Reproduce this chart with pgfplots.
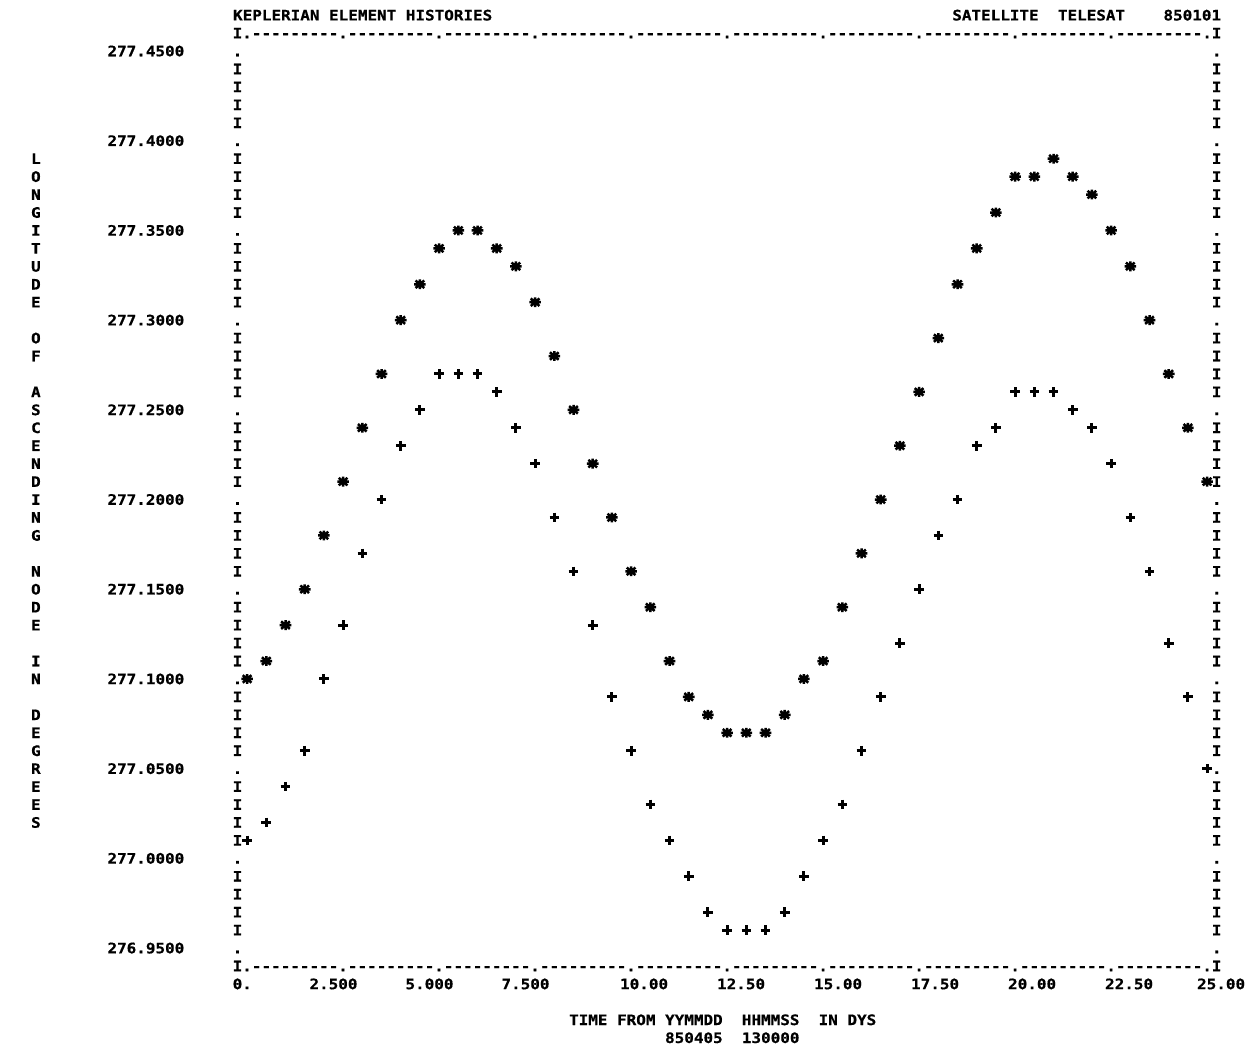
\documentclass[border=0pt]{standalone}
\usepackage{fontspec}
\usepackage{pgfplots}
\usepackage{pgfplotstable}
\pgfplotsset{compat=1.18}
\newfontfamily\lp{DejaVu Sans Mono Bold}[FakeStretch=1.1073,FakeBold=0.6]
\newcommand\lpf{\lp\fontsize{7.2}{8.97}\selectfont}
\newcommand\sh[2]{\makebox[0pt]{\hspace*{#1}\hspace*{#1}#2}}
\pgfdeclareplotmark{lpstar}{%
  \pgfpathmoveto{\pgfqpoint{-\pgfplotmarksize}{0pt}}\pgfpathlineto{\pgfqpoint{\pgfplotmarksize}{0pt}}%
  \pgfpathmoveto{\pgfqpoint{0pt}{-.85\pgfplotmarksize}}\pgfpathlineto{\pgfqpoint{0pt}{.85\pgfplotmarksize}}%
  \pgfpathmoveto{\pgfqpoint{-.75\pgfplotmarksize}{-.65\pgfplotmarksize}}\pgfpathlineto{\pgfqpoint{.75\pgfplotmarksize}{.65\pgfplotmarksize}}%
  \pgfpathmoveto{\pgfqpoint{-.75\pgfplotmarksize}{.65\pgfplotmarksize}}\pgfpathlineto{\pgfqpoint{.75\pgfplotmarksize}{-.65\pgfplotmarksize}}%
  \pgfusepathqstroke}
\pgfplotstableread{
t    s      p
0.0  277.10 277.01
0.5  277.11 277.02
1.0  277.13 277.04
1.5  277.15 277.06
2.0  277.18 277.10
2.5  277.21 277.13
3.0  277.24 277.17
3.5  277.27 277.20
4.0  277.30 277.23
4.5  277.32 277.25
5.0  277.34 277.27
5.5  277.35 277.27
6.0  277.35 277.27
6.5  277.34 277.26
7.0  277.33 277.24
7.5  277.31 277.22
8.0  277.28 277.19
8.5  277.25 277.16
9.0  277.22 277.13
9.5  277.19 277.09
10.0 277.16 277.06
10.5 277.14 277.03
11.0 277.11 277.01
11.5 277.09 276.99
12.0 277.08 276.97
12.5 277.07 276.96
13.0 277.07 276.96
13.5 277.07 276.96
14.0 277.08 276.97
14.5 277.10 276.99
15.0 277.11 277.01
15.5 277.14 277.03
16.0 277.17 277.06
16.5 277.20 277.09
17.0 277.23 277.12
17.5 277.26 277.15
18.0 277.29 277.18
18.5 277.32 277.20
19.0 277.34 277.23
19.5 277.36 277.24
20.0 277.38 277.26
20.5 277.38 277.26
21.0 277.39 277.26
21.5 277.38 277.25
22.0 277.37 277.24
22.5 277.35 277.22
23.0 277.33 277.19
23.5 277.30 277.16
24.0 277.27 277.12
24.5 277.24 277.09
25.0 277.21 277.05
}\data
\begin{document}
\begin{tikzpicture}[lpc/.style={font=\lpf,inner sep=0pt,anchor=base,yshift=-2.62pt}]
\path[use as bounding box] (-118.75pt,-39pt) rectangle (504.75pt,483pt);
\begin{axis}[at={(0pt,0pt)},anchor=south west,scale only axis,
  width=489.6pt,height=466.44pt,
  xmin=-0.25,xmax=25.25,ymin=276.94,ymax=277.46,clip=false,
  axis line style={draw=none},major tick length=0pt,
  scaled ticks=false,
  xtick={0,2.5,5,7.5,10,12.5,15,17.5,20,22.5,25},
  xticklabels={\sh{-2.4pt}{0.},\sh{-4.8pt}{2.500},\sh{-4.8pt}{5.000},\sh{-4.8pt}{7.500},
    \sh{6.5pt}{10.00},\sh{7pt}{12.50},\sh{7.5pt}{15.00},\sh{8pt}{17.50},\sh{8.5pt}{20.00},\sh{9pt}{22.50},\sh{7pt}{25.00}},
  xticklabel style={font=\lpf,inner sep=0pt,anchor=base,yshift=-11.59pt},
  ytick={276.95,277.00,277.05,277.10,277.15,277.20,277.25,277.30,277.35,277.40,277.45},
  yticklabels={276.9500,277.0000,277.0500,277.1000,277.1500,277.2000,277.2500,277.3000,277.3500,277.4000,277.4500},
  yticklabel style={font=\lpf,inner sep=0pt,anchor=base east,xshift=-26.4pt,yshift=-2.62pt},
]
\addplot[only marks,mark=lpstar,mark size=2.9pt,line width=1.25pt,black] table[x=t,y=s]{\data};
\addplot[only marks,mark=+,mark size=2.4pt,line width=1.5pt,black] table[x=t,y=p]{\data};
\end{axis}
\foreach \r in {0,...,52}{
  \pgfmathtruncatemacro\m{mod(\r+4,5)}
  \ifnum\m=0 \def\ch{.}\else\def\ch{I}\fi
  \node[lpc] at (0pt,\r*8.97pt) {\ch};
  \node[lpc] at (489.6pt,\r*8.97pt) {\ch};
}
\foreach \c in {1,...,101}{
  \pgfmathtruncatemacro\m{mod(\c-1,10)}
  \ifnum\m=0 \def\ch{.}\else\def\ch{-}\fi
  \node[lpc] at (\c*4.8pt,0pt) {\ch};
  \node[lpc] at (\c*4.8pt,466.44pt) {\ch};
}
\foreach \ch [count=\i from 0] in {L,O,N,G,I,T,U,D,E,{},O,F,{},A,S,C,E,N,D,I,N,G,{},N,O,D,E,{},I,N,{},D,E,G,R,E,E,S}{
  \node[lpc] at (-100.8pt,{(45-\i)*8.97pt}) {\ch};
}
\node[font=\lpf,inner sep=0pt,anchor=base west] at (-2.4pt,472.79pt) {KEPLERIAN ELEMENT HISTORIES};
\node[font=\lpf,inner sep=0pt,anchor=base east] at (492pt,472.79pt) {SATELLITE~~TELESAT~~~~850101};
\node[font=\lpf,inner sep=0pt,anchor=base west] at (165.6pt,-29.53pt) {TIME FROM YYMMDD~~HHMMSS~~IN DYS};
\node[font=\lpf,inner sep=0pt,anchor=base west] at (213.6pt,-38.5pt) {850405~~130000};
\end{tikzpicture}
\end{document}
